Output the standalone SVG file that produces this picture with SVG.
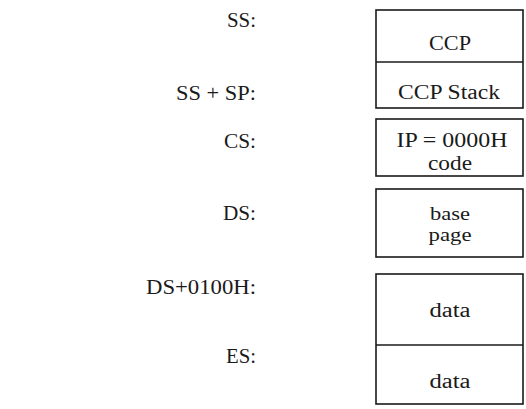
<svg xmlns="http://www.w3.org/2000/svg" width="526" height="409" viewBox="0 0 526 409">
<style>
  .bg { fill: #ffffff; }
  .box { fill: #ffffff; stroke: #1a1a1a; stroke-width: 1.6; }
  .div { stroke: #1a1a1a; stroke-width: 1.6; }
  text { font-family: "Liberation Serif", "Times New Roman", serif; font-size: 20px; fill: #1a1a1a; }
  .lbl { text-anchor: end; }
  .ctr { text-anchor: middle; }
  .sm { font-size: 19px; }
</style>
<rect class="bg" x="0" y="0" width="526" height="409"/>

<g id="labels">
  <text class="lbl" x="256" y="27" textLength="29" lengthAdjust="spacingAndGlyphs">SS:</text>
  <text class="lbl" x="256" y="100" textLength="80" lengthAdjust="spacingAndGlyphs">SS + SP:</text>
  <text class="lbl" x="256" y="148" textLength="32" lengthAdjust="spacingAndGlyphs">CS:</text>
  <text class="lbl" x="256" y="220" textLength="33" lengthAdjust="spacingAndGlyphs">DS:</text>
  <text class="lbl" x="256" y="294" textLength="110" lengthAdjust="spacingAndGlyphs">DS+0100H:</text>
  <text class="lbl" x="256" y="363" textLength="30" lengthAdjust="spacingAndGlyphs">ES:</text>
</g>

<g id="stack-segment">
  <rect class="box" x="376" y="10" width="147" height="98"/>
  <line class="div" x1="376" y1="62" x2="523" y2="62"/>
  <text class="ctr" x="450" y="50" textLength="42" lengthAdjust="spacingAndGlyphs">CCP</text>
  <text class="ctr" x="449" y="99" textLength="102" lengthAdjust="spacingAndGlyphs">CCP Stack</text>
</g>

<g id="code-segment">
  <rect class="box" x="376" y="119" width="147" height="57"/>
  <text class="ctr" x="452" y="147" textLength="111" lengthAdjust="spacingAndGlyphs">IP = 0000H</text>
  <text class="ctr" x="450" y="170" textLength="44" lengthAdjust="spacingAndGlyphs">code</text>
</g>

<g id="base-page">
  <rect class="box" x="376" y="189" width="147" height="68"/>
  <text class="ctr sm" x="450" y="220" textLength="40" lengthAdjust="spacingAndGlyphs">base</text>
  <text class="ctr sm" x="450" y="241" textLength="43" lengthAdjust="spacingAndGlyphs">page</text>
</g>

<g id="data-segment">
  <rect class="box" x="376" y="274" width="147" height="130"/>
  <line class="div" x1="376" y1="345" x2="523" y2="345"/>
  <text class="ctr" x="450" y="317" textLength="41" lengthAdjust="spacingAndGlyphs">data</text>
  <text class="ctr" x="450" y="388" textLength="41" lengthAdjust="spacingAndGlyphs">data</text>
</g>
</svg>
